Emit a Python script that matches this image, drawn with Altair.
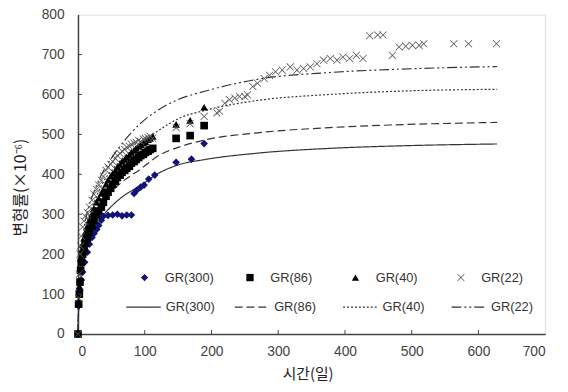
import altair as alt
import pandas as pd

series = ["GR(300)", "GR(86)", "GR(40)", "GR(22)"]
line_names = ["L-GR(300)", "L-GR(86)", "L-GR(40)", "L-GR(22)"]

# measured points
t300 = [0, 1, 3, 5, 7, 10, 14, 17, 21, 24, 28, 31, 35, 38, 45, 52, 59, 66, 73, 80,
        84, 88, 94, 99, 106, 115, 147, 170, 189]
v300 = [0, 70, 110, 135, 155, 180, 205, 225, 242, 252, 262, 272, 285, 295, 297, 298, 300, 296, 298, 298,
        352, 360, 368, 373, 388, 398, 430, 438, 477]

t_early = [0, 1, 2, 3, 4, 5, 7, 9, 11, 14, 17, 21, 24, 28, 31, 35, 38, 42, 45, 49,
           52, 56, 59, 63, 66, 70, 73, 77, 80, 84, 87, 91, 94, 98, 101, 105, 108, 112,
           147, 168, 189]
v86 = [0, 75, 100, 130, 160, 180, 200, 215, 228, 240, 255, 270, 285, 298, 308, 318, 330, 345, 355, 365,
       375, 383, 392, 398, 405, 410, 415, 420, 428, 432, 437, 442, 447, 450, 455, 458, 462, 465,
       490, 497, 522]
v40 = [0, 80, 120, 160, 190, 205, 225, 240, 255, 270, 285, 300, 315, 330, 340, 352, 362, 375, 385, 395,
       402, 410, 418, 425, 432, 437, 443, 448, 455, 460, 465, 470, 474, 478, 482, 487, 490, 495,
       525, 535, 568]
v22_early = [0, 90, 150, 200, 220, 245, 268, 283, 295, 304, 318, 335, 350, 362, 373, 385, 395, 410, 418, 425,
             432, 440, 447, 452, 458, 462, 468, 470, 475, 478, 480, 485, 482, 488, 490, 492, 495, 490,
             517, 527, 545]
t22_late = [208, 212, 220, 227, 235, 242, 250, 254, 262, 269, 279, 287, 296, 306, 318, 328, 338, 348, 358, 368,
            378, 388, 397, 407, 417, 427, 437, 449, 457, 471, 481, 491, 501, 511, 518, 563, 585, 627]
v22_late = [554, 558, 578, 587, 591, 595, 595, 599, 620, 628, 640, 648, 657, 661, 669, 661, 665, 669, 677, 686,
            690, 686, 694, 690, 698, 690, 747, 749, 749, 698, 719, 721, 723, 723, 727, 727, 727, 727]

# model curves
tc = [0, 1, 3, 7, 14, 23, 37, 52, 70, 92, 121, 151, 190, 269, 377, 476, 628]
c300 = [0, 60, 115, 170, 220, 254, 295, 323, 348, 370, 403, 424, 437, 453, 465, 471, 476]
c86 = [0, 67, 128, 189, 244, 282, 328, 359, 386, 411, 447, 468, 486, 504, 517, 524, 530]
c40 = [0, 77, 147, 218, 282, 325, 378, 413, 445, 475, 510, 540, 560, 585, 600, 608, 613]
c22 = [0, 85, 160, 238, 305, 352, 405, 445, 485, 525, 562, 588, 608, 638, 655, 663, 670]

x_ticks = [0, 100, 200, 300, 400, 500, 600, 700]
y_ticks = [0, 100, 200, 300, 400, 500, 600, 700, 800]

W, H = 474, 324
XPATH = ("M-1,-0.86L-0.86,-1L0,-0.14L0.86,-1L1,-0.86L0.14,0L1,0.86L0.86,1L0,0.14"
         "L-0.86,1L-1,0.86L-0.14,0Z")

rows = []
for t, v in zip(t300, v300):
    rows.append({"t": t, "v": v, "pt": "GR(300)"})
for t, v in zip(t_early, v86):
    rows.append({"t": t, "v": v, "pt": "GR(86)"})
for t, v in zip(t_early, v40):
    rows.append({"t": t, "v": v, "pt": "GR(40)"})
for t, v in zip(t_early + t22_late, v22_early + v22_late):
    rows.append({"t": t, "v": v, "pt": "GR(22)"})
pts = pd.DataFrame(rows)

crows = []
for name, vals in zip(line_names, [c300, c86, c40, c22]):
    for t, v in zip(tc, vals):
        crows.append({"t": t, "v": v, "ln": name})
curves = pd.DataFrame(crows)

FONT = "Liberation Sans"
KFONT = "Noto Sans CJK KR"

xenc = alt.X("t:Q", scale=alt.Scale(domain=[0, 700], nice=False),
             axis=alt.Axis(values=x_ticks, title="시간(일)", ticks=False, tickSize=0,
                           labelPadding=11, labelFontSize=14, labelFont=FONT, labelColor="#444",
                           titleFont=KFONT, titleFontSize=15, titleFontWeight="normal",
                           titleColor="#222", titleX=W / 2 - 4, titleY=48, titleBaseline="bottom",
                           grid=False, domainColor="#444", domainWidth=1.5))
yenc = alt.Y("v:Q", scale=alt.Scale(domain=[0, 800], nice=False),
             axis=alt.Axis(values=y_ticks, title="변형률(×10⁻⁶)", ticks=False, tickSize=0,
                           labelPadding=14, labelFontSize=14, labelFont=FONT, labelColor="#444",
                           titleFont=KFONT, titleFontSize=16, titleFontWeight="normal",
                           titleColor="#222", titleX=-58, titleY=175, titleAngle=-90,
                           titleBaseline="middle", titleAlign="center",
                           grid=False, domainColor="#444", domainWidth=1.5))

line_legend = alt.Legend(orient="none", legendX=48, legendY=278, direction="horizontal", columns=4,
                         title=None, symbolType="stroke", symbolSize=1225, symbolStrokeColor="#333",
                         symbolStrokeWidth=1.2, labelFont=FONT, labelFontSize=13, labelColor="#333",
                         labelOffset=4, columnPadding=17, gridAlign="all", padding=0,
                         labelExpr="replace(datum.label, 'L-', '')")
lines = alt.Chart(curves).mark_line(interpolate="monotone", color="#333", strokeWidth=1.2).encode(
    x=xenc, y=yenc,
    strokeDash=alt.StrokeDash("ln:N", scale=alt.Scale(domain=line_names,
                                                      range=[[1, 0], [8, 4], [2, 2], [10, 3, 2, 3, 2, 3]]),
                              legend=line_legend),
)

pt_legend = alt.Legend(orient="none", legendX=61, legendY=260, direction="horizontal", columns=4,
                       title=None, labelFont=FONT, labelFontSize=13, labelColor="#333",
                       labelOffset=14, columnPadding=30, gridAlign="all", padding=0, symbolSize=55)
points = alt.Chart(pts).mark_point(filled=True, opacity=1, size=60).encode(
    x="t:Q", y="v:Q",
    shape=alt.Shape("pt:N", scale=alt.Scale(domain=series,
                                            range=["diamond", "square", "triangle-up", XPATH]),
                    legend=pt_legend),
    color=alt.Color("pt:N", scale=alt.Scale(domain=series,
                                            range=["#12127a", "#000000", "#000000", "#555555"]),
                    legend=pt_legend),
)

xt = alt.Chart(pd.DataFrame({"t": x_ticks[1:-1]})).mark_rule(color="#444", strokeWidth=1).encode(
    x="t:Q", y=alt.value(H), y2=alt.value(H - 4))
yt = alt.Chart(pd.DataFrame({"v": y_ticks[1:-1]})).mark_rule(color="#444", strokeWidth=1).encode(
    y="v:Q", x=alt.value(0), x2=alt.value(4))

chart = alt.layer(lines, points, xt, yt).properties(
    width=W, height=H,
    autosize=alt.AutoSizeParams(type="none"),
    padding={"left": 71, "top": 4, "right": 15, "bottom": 48},
).configure_view(stroke="#444", strokeWidth=1.5).configure(background="white")

chart.save("out.html", embed_options={"renderer": "svg", "actions": False})
